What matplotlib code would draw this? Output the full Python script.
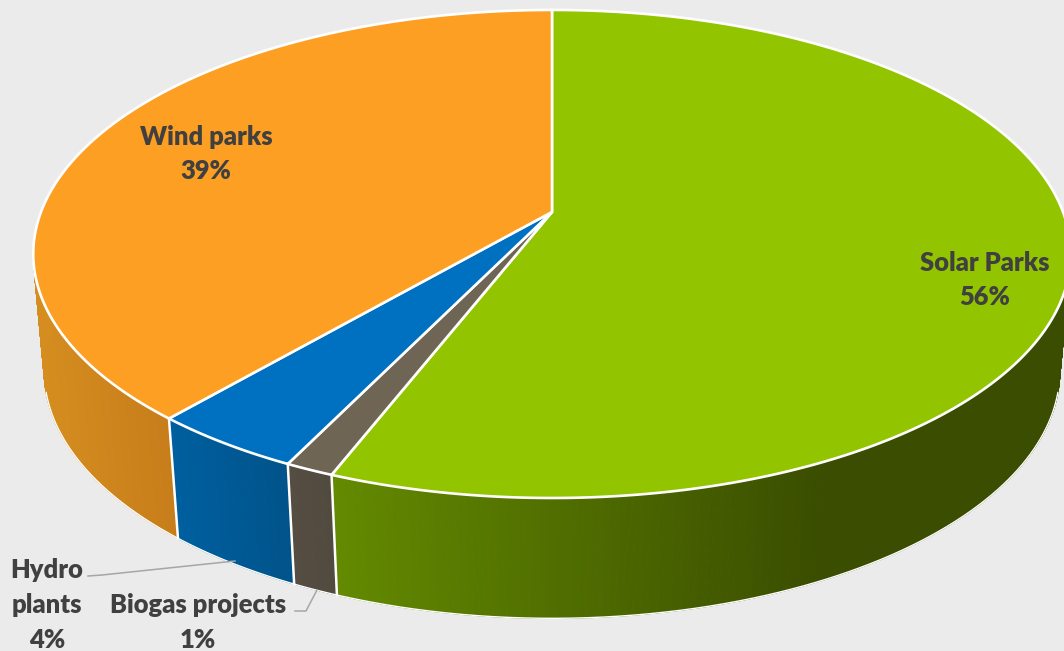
"""3D pie of renewable project types, drawn as projected polygons."""

import matplotlib
matplotlib.use("Agg")
import matplotlib.pyplot as plt
from matplotlib.colors import to_rgb
import numpy as np

names = ["Solar Parks", "Biogas projects", "Hydro plants", "Wind parks"]
shares = [55.9, 1.3, 4.1, 38.7]
share_labels = ["56%", "1%", "4%", "39%"]

top_colors = ["#92c500", "#6f6555", "#0070c0", "#fd9f22"]
side_left = ["#638a00", "#554d42", "#005f9f", "#d68e20"]
side_right = ["#3a4d00", "#514a3e", "#00538a", "#c77d1a"]
shade_span = [(338, 820), (295, 338), (180, 295), (40, 180)]

BG = "#ebebeb"
TEXT = "#404040"
LEADER = "#a6a6a6"

# perspective camera, fitted by eye to the picture
CX, CY = 552, 212
A, B, C = 511, 236.8, 120
P, Q = 0.172, 0.021
SHRINK = 0.05


def project(theta, z):
    x, y = np.sin(theta), np.cos(theta)
    w = 1 + P * y + Q * z
    return CX + A * x / w, CY + (-B * y * (1 - SHRINK * z) + C * z) / w


fig = plt.figure(figsize=(10.64, 6.51), dpi=100, facecolor=BG)
ax = fig.add_axes([0, 0, 1, 1])
ax.set_xlim(0, 1064)
ax.set_ylim(651, 0)
ax.axis("off")

edges = np.radians(np.concatenate([[0], np.cumsum(shares)]) * 3.6)

# Side wall first, in thin strips so the shading can follow x
for i in range(len(shares)):
    t = np.linspace(edges[i], edges[i + 1], max(int(np.degrees(edges[i + 1] - edges[i])) * 6, 8))
    x0, y0 = project(t, 0)
    x1, y1 = project(t, 1)
    c0, c1 = np.array(to_rgb(side_left[i])), np.array(to_rgb(side_right[i]))
    lo, hi = shade_span[i]
    for j in range(len(t) - 1):
        f = np.clip((x1[j] - lo) / (hi - lo), 0, 1)
        col = c0 + (c1 - c0) * f
        ax.fill([x0[j], x0[j + 1], x1[j + 1], x1[j]], [y0[j], y0[j + 1], y1[j + 1], y1[j]],
                facecolor=col, edgecolor=col, linewidth=0.8, zorder=2)
    # outer lower rim, only where it is the visible outline
    near = np.cos(t) < -0.25
    ax.plot(x1[near], y1[near], color="white", linewidth=1.0, zorder=3)

# Vertical white seams between visible slices
for a in edges[1:4]:
    xs, ys = project(np.array([a, a]), np.array([0, 1]))
    ax.plot(xs, ys, color="white", linewidth=1.8, zorder=4)

# Top face
for i in range(len(shares)):
    t = np.linspace(edges[i], edges[i + 1], 300)
    x0, y0 = project(t, 0)
    ax.fill(np.r_[CX, x0], np.r_[CY, y0], facecolor=top_colors[i], edgecolor="white",
            linewidth=1.9, joinstyle="round", zorder=5)

ax.plot([88, 102, 235], [576, 575, 561], color=LEADER, linewidth=1.1, zorder=6)
ax.plot([295, 306, 317], [611, 611, 590], color=LEADER, linewidth=1.1, zorder=6)

font = dict(family="Lato", fontweight="heavy", fontsize=18.4, color=TEXT, ha="center",
            va="center", zorder=7)
ax.text(985, 263, names[0], **font)
ax.text(985, 297, share_labels[0], **font)
ax.text(206, 137, names[3], **font)
ax.text(206, 171, share_labels[3], **font)
ax.text(47, 570, names[2].split()[0], **font)
ax.text(47, 605, names[2].split()[1], **font)
ax.text(47, 640, share_labels[2], **font)
ax.text(198, 605, names[1], **font)
ax.text(198, 640, share_labels[1], **font)

fig.savefig("out.png", dpi=100, facecolor=BG)
plt.close(fig)
